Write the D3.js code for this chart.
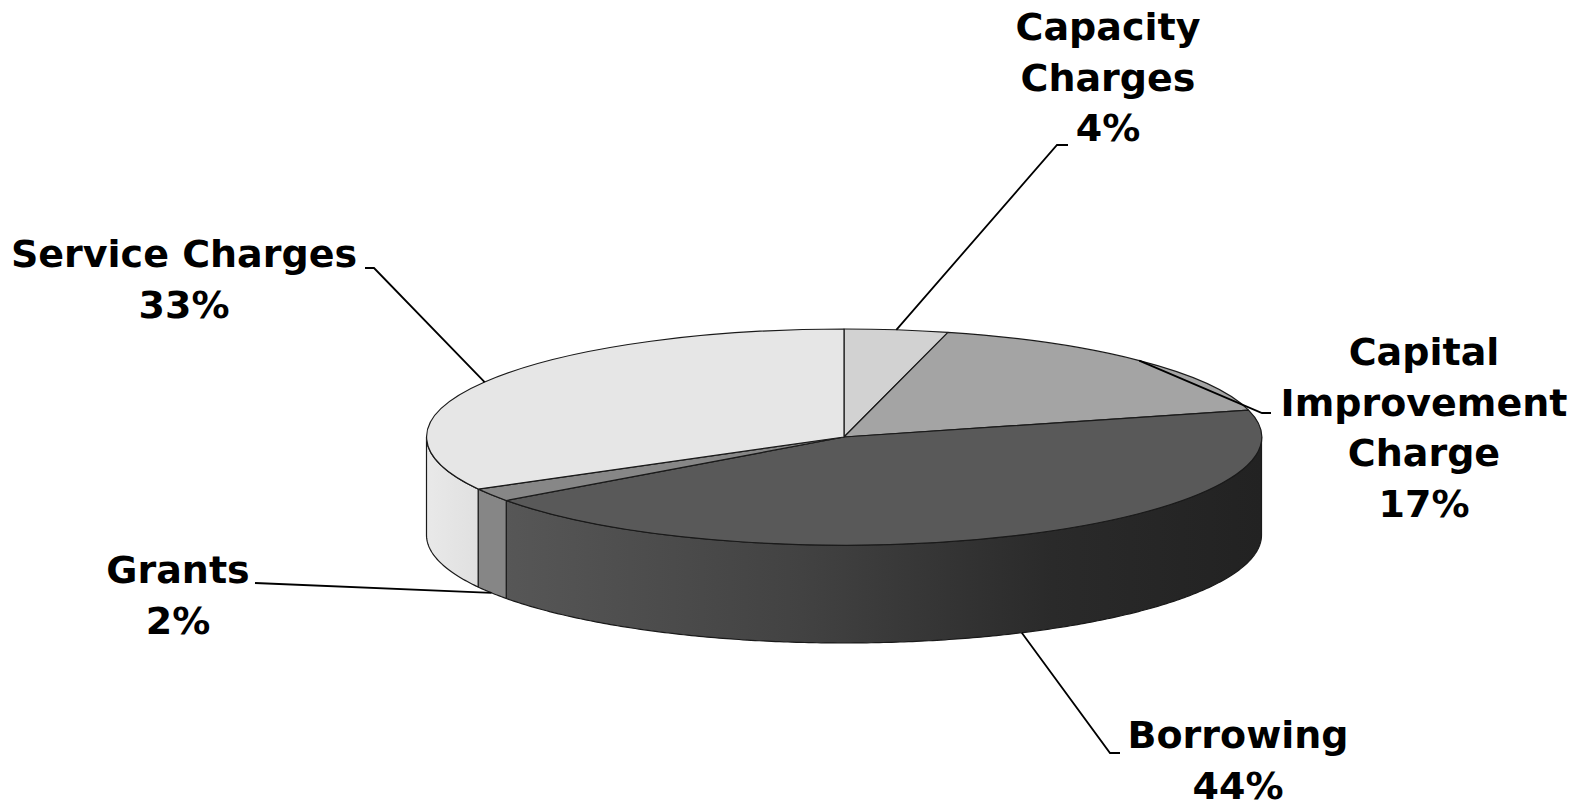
<!DOCTYPE html>
<html>
<head>
<meta charset="utf-8">
<script src="https://cdn.jsdelivr.net/npm/d3@7"></script>
<style>
  html, body { margin: 0; padding: 0; background: #ffffff; }
  svg { display: block; }
  text { font-family: "DejaVu Sans", Verdana, sans-serif; font-weight: bold; fill: #000; }
</style>
</head>
<body>
<svg id="chart" width="1581" height="809"></svg>
<script>
// ---- data ----
const categories = ["Capacity Charges", "Capital Improvement Charge", "Borrowing", "Grants", "Service Charges"];
const values = [4, 17, 44, 2, 33];
const labelNameLines = [["Capacity", "Charges"], ["Capital", "Improvement", "Charge"], ["Borrowing"], ["Grants"], ["Service Charges"]];
const topColors = ["#d2d2d2", "#a4a4a4", "#595959", "#878787", "#e6e6e6"];
const sideStops = [
  [[0, "#c8c8c8"], [1, "#c8c8c8"]],
  [[0, "#9a9a9a"], [1, "#9a9a9a"]],
  [[0, "#5a5a5a"], [0.09, "#575757"], [0.45, "#424242"], [0.75, "#2a2a2a"], [1, "#222222"]],
  [[0, "#868686"], [1, "#868686"]],
  [[0, "#e9e9e9"], [0.07, "#dfdfdf"], [1, "#dfdfdf"]]
];

// ---- layout (positions, not data) ----
const cx = 844, cy = 437, rx = 417.5, ry = 108, depth = 98;
const fontSize = 38, lineGap = 50.5;
// label anchor (center x, first baseline y) and leader elbow points
const labelLayout = [
  {x: 1108, y: 40,  elbow: [[1057, 145], [1068, 145]]},
  {x: 1424, y: 365, elbow: [[1262, 413], [1271, 413]]},
  {x: 1238, y: 748, elbow: [[1110, 753], [1120, 753]]},
  {x: 178,  y: 583, elbow: [[255, 583]]},
  {x: 184,  y: 267, elbow: [[374, 268], [365, 268]]}
];

const svg = d3.select("#chart");
const defs = svg.append("defs");

const pie = d3.pie().sort(null).value(d => d).startAngle(0).endAngle(2 * Math.PI);
const arcs = pie(values);

const pt = (a, dy) => [cx + rx * Math.sin(a), cy - ry * Math.cos(a) + dy];

// gradients for the side walls
arcs.forEach((d, i) => {
  const g = defs.append("linearGradient")
    .attr("id", "side" + i)
    .attr("gradientUnits", "userSpaceOnUse")
    .attr("x1", cx - rx).attr("x2", cx + rx).attr("y1", 0).attr("y2", 0);
  sideStops[i].forEach(s => g.append("stop").attr("offset", s[0]).attr("stop-color", s[1]));
});

// side walls (front half only)
const line = d3.line();
const sideG = svg.append("g");
arcs.forEach((d, i) => {
  const s = Math.max(d.startAngle, Math.PI / 2);
  const e = Math.min(d.endAngle, 3 * Math.PI / 2);
  if (e <= s) return;
  const n = Math.max(8, Math.ceil((e - s) / 0.01));
  const top = d3.range(n + 1).map(k => pt(s + (e - s) * k / n, 0));
  const bot = d3.range(n + 1).map(k => pt(e - (e - s) * k / n, depth));
  sideG.append("path")
    .attr("d", line(top.concat(bot)) + "Z")
    .attr("fill", `url(#side${i})`)
    .attr("stroke", "#1a1a1a")
    .attr("stroke-width", 1.2)
    .attr("stroke-linejoin", "round");
});

// top faces
const arc = d3.arc().innerRadius(0).outerRadius(1);
svg.append("g")
  .attr("transform", `translate(${cx},${cy}) scale(${rx},${ry})`)
  .selectAll("path")
  .data(arcs)
  .join("path")
  .attr("d", arc)
  .attr("fill", (d, i) => topColors[i])
  .attr("stroke", "#1a1a1a")
  .attr("stroke-width", 1.2)
  .attr("vector-effect", "non-scaling-stroke")
  .attr("stroke-linejoin", "round");

// leader lines
const leaderG = svg.append("g");
arcs.forEach((d, i) => {
  const mid = (d.startAngle + d.endAngle) / 2;
  const front = mid > Math.PI / 2 && mid < 3 * Math.PI / 2;
  const anchor = pt(mid, front ? depth : 0);
  const pts = [anchor].concat(labelLayout[i].elbow);
  leaderG.append("path")
    .attr("d", line(pts))
    .attr("fill", "none")
    .attr("stroke", "#000")
    .attr("stroke-width", 1.8);
});

// labels
const labelG = svg.append("g");
arcs.forEach((d, i) => {
  const lines = labelNameLines[i].concat([values[i] + "%"]);
  const t = labelG.append("text")
    .attr("text-anchor", "middle")
    .attr("font-size", fontSize)
    .attr("x", labelLayout[i].x)
    .attr("y", labelLayout[i].y);
  lines.forEach((ln, k) => {
    t.append("tspan")
      .attr("x", labelLayout[i].x)
      .attr("dy", k === 0 ? 0 : lineGap)
      .text(ln);
  });
});
</script>
</body>
</html>
